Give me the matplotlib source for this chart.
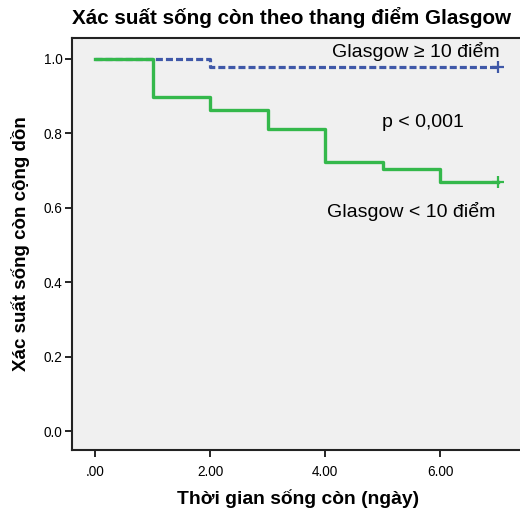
import matplotlib
matplotlib.use("Agg")
import matplotlib.pyplot as plt

# Kaplan-Meier step data
days = [0, 1, 2, 3, 4, 5, 6, 7]
surv_low = [1.0, 0.897, 0.863, 0.811, 0.722, 0.704, 0.670, 0.670]   # Glasgow < 10
surv_high = [1.0, 1.0, 0.978, 0.978, 0.978, 0.978, 0.978, 0.978]    # Glasgow >= 10

x_ticks = [0, 2, 4, 6]
x_tick_labels = [".00", "2.00", "4.00", "6.00"]
y_ticks = [0.0, 0.2, 0.4, 0.6, 0.8, 1.0]

plt.rcParams['font.family'] = ['Liberation Sans', 'DejaVu Sans']

green = '#34b84b'
blue = '#3f58a8'

fig = plt.figure(figsize=(5.2, 5.15), dpi=100)
ax = fig.add_axes([72 / 520, 65 / 515, 453 / 520, 412 / 515])
ax.set_facecolor('#f0f0f0')

ax.step(days, surv_high, where='post', color=blue, lw=2.3,
        linestyle=(0, (2.2, 0.95)), zorder=2)
ax.step(days, surv_low, where='post', color=green, lw=2.4, zorder=3)

# censor marks at the end
ax.plot(days[-1], surv_high[-1], marker='+', color=blue, ms=8, mew=1.6, zorder=4)
ax.plot(days[-1], surv_low[-1], marker='+', color=green, ms=8, mew=1.6, zorder=4)

ax.set_xlim(-0.40, 7.47)
ax.set_ylim(-0.051, 1.056)
ax.set_xticks(x_ticks)
ax.set_xticklabels(x_tick_labels)
ax.set_yticks(y_ticks)
ax.set_yticklabels([f"{v:.1f}" for v in y_ticks])
ax.tick_params(direction='out', length=5, width=1.2, labelsize=9.8, pad=2)
ax.tick_params(axis='x', pad=6)

for side in ['left', 'bottom', 'top']:
    ax.spines[side].set_linewidth(1.5)
    ax.spines[side].set_color('#222222')
ax.spines['right'].set_visible(False)

ax.text(5.58, 1.019, "Glasgow ≥ 10 điểm", fontsize=14, ha='center', va='center')
ax.text(5.69, 0.828, "p < 0,001", fontsize=14, ha='center', va='center')
ax.text(5.49, 0.591, "Glasgow < 10 điểm", fontsize=14, ha='center', va='center')

ax.set_xlabel("Thời gian sống còn (ngày)", fontsize=13.9, fontweight='bold', labelpad=7)
ax.set_ylabel("Xác suất sống còn cộng dồn", fontsize=13.5, fontweight='bold', labelpad=10)

fig.text(72 / 520, 1 - 17 / 515, "Xác suất sống còn theo thang điểm Glasgow",
         fontsize=14.9, fontweight='bold', ha='left', va='center')

fig.savefig("out.png", dpi=100)
